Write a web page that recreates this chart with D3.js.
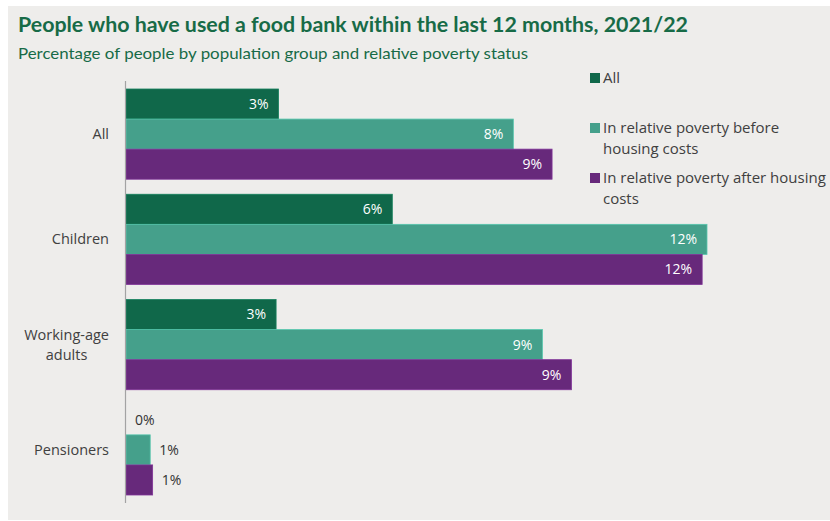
<!DOCTYPE html>
<html>
<head>
<meta charset="utf-8">
<script src="https://cdn.jsdelivr.net/npm/d3@7"></script>
<style>
  body { margin: 0; background: #fff; }
  svg text { font-family: "Open Sans", sans-serif; }
</style>
</head>
<body>
<svg id="chart" width="830" height="521"></svg>
<script>
// groups down the y axis
const groups = ["All", "Children", "Working-age adults", "Pensioners"];
// series (legend order)
const series = ["All", "In relative poverty before housing costs", "In relative poverty after housing costs"];
// values in %, one array per series, in group order
const allPeople   = [3.15, 5.5, 3.1, 0.0];
const povertyBHC  = [8.0, 12.0, 8.6, 0.5];
const povertyAHC  = [8.8, 11.9, 9.2, 0.55];
const colors = ["#10684a", "#45a08b", "#67297b"];

const seriesValues = [allPeople, povertyBHC, povertyAHC];

const svg = d3.select("#chart");

// grey panel
svg.append("rect")
    .attr("x", 8).attr("y", 6)
    .attr("width", 822).attr("height", 514)
    .attr("fill", "#eeedeb");

// title + subtitle
svg.append("text")
    .attr("x", 18).attr("y", 32)
    .attr("fill", "#176b47")
    .style("font-family", "Lato, sans-serif")
    .style("font-weight", "bold")
    .style("font-size", "21.4px")
    .attr("textLength", 670)
    .attr("lengthAdjust", "spacingAndGlyphs")
    .text("People who have used a food bank within the last 12 months, 2021/22");

svg.append("text")
    .attr("x", 18).attr("y", 59)
    .attr("fill", "#176b47")
    .style("font-family", "Lato, sans-serif")
    .style("font-size", "16px")
    .attr("textLength", 510)
    .attr("lengthAdjust", "spacingAndGlyphs")
    .text("Percentage of people by population group and relative poverty status");

// scales
const x = d3.scaleLinear().domain([0, 12]).range([126, 707]);
const y = d3.scaleBand().domain(groups).range([89, 495]).paddingInner(0.143);
const ySub = d3.scaleBand().domain(d3.range(series.length)).range([0, y.bandwidth()]);

// rows of data
const rows = [];
groups.forEach((g, gi) => {
    seriesValues.forEach((vals, si) => {
        rows.push({group: g, s: si, value: vals[gi]});
    });
});

// bars
svg.append("g").selectAll("rect")
    .data(rows.filter(d => d.value > 0))
    .join("rect")
    .attr("x", x(0))
    .attr("y", d => y(d.group) + ySub(d.s))
    .attr("width", d => x(d.value) - x(0))
    .attr("height", ySub.bandwidth())
    .attr("fill", d => colors[d.s])
    .attr("stroke", d => d3.color(colors[d.s]).brighter(0.6))
    .attr("stroke-width", 0.8);

// value labels: inside if room, outside otherwise
svg.append("g").selectAll("text")
    .data(rows)
    .join("text")
    .attr("x", d => (x(d.value) - x(0) > 40) ? x(d.value) - 10 : x(d.value) + 9)
    .attr("y", d => y(d.group) + ySub(d.s) + ySub.bandwidth() / 2)
    .attr("dy", "0.35em")
    .attr("text-anchor", d => (x(d.value) - x(0) > 40) ? "end" : "start")
    .attr("fill", d => (x(d.value) - x(0) > 40) ? "#ffffff" : "#333333")
    .style("font-size", "14px")
    .text(d => Math.round(d.value) + "%");

// y axis line
svg.append("line")
    .attr("x1", 125.5).attr("x2", 125.5)
    .attr("y1", 81).attr("y2", 503)
    .attr("stroke", "#a3a3a3")
    .attr("stroke-width", 1.2);

// category labels (wrap "Working-age adults")
const catLines = {"Working-age adults": ["Working-age", "adults"]};
groups.forEach(g => {
    const lines = catLines[g] || [g];
    const cy = y(g) + y.bandwidth() / 2;
    const t = svg.append("text")
        .attr("fill", "#404040")
        .style("font-size", "14.5px");
    const widths = [];
    lines.forEach((ln, i) => {
        const ts = t.append("tspan")
            .attr("y", cy + (i - (lines.length - 1) / 2) * 20)
            .attr("dy", "0.35em")
            .text(ln);
        widths.push(ts.node().getComputedTextLength());
    });
    // centre lines on the widest one, right edge at 109
    const maxW = d3.max(widths);
    t.selectAll("tspan").attr("x", 109 - maxW / 2).attr("text-anchor", "middle");
});

// legend
const legendLines = [["All"], ["In relative poverty before", "housing costs"], ["In relative poverty after housing", "costs"]];
const legendY = [78, 128, 178];
legendLines.forEach((lines, i) => {
    svg.append("rect")
        .attr("x", 590).attr("y", legendY[i] - 5)
        .attr("width", 10).attr("height", 10)
        .attr("fill", colors[i]);
    const t = svg.append("text")
        .attr("fill", "#404040")
        .style("font-size", "15px");
    lines.forEach((ln, j) => {
        t.append("tspan")
            .attr("x", 603)
            .attr("y", legendY[i] + j * 21)
            .attr("dy", "0.35em")
            .text(ln);
    });
});
</script>
</body>
</html>
